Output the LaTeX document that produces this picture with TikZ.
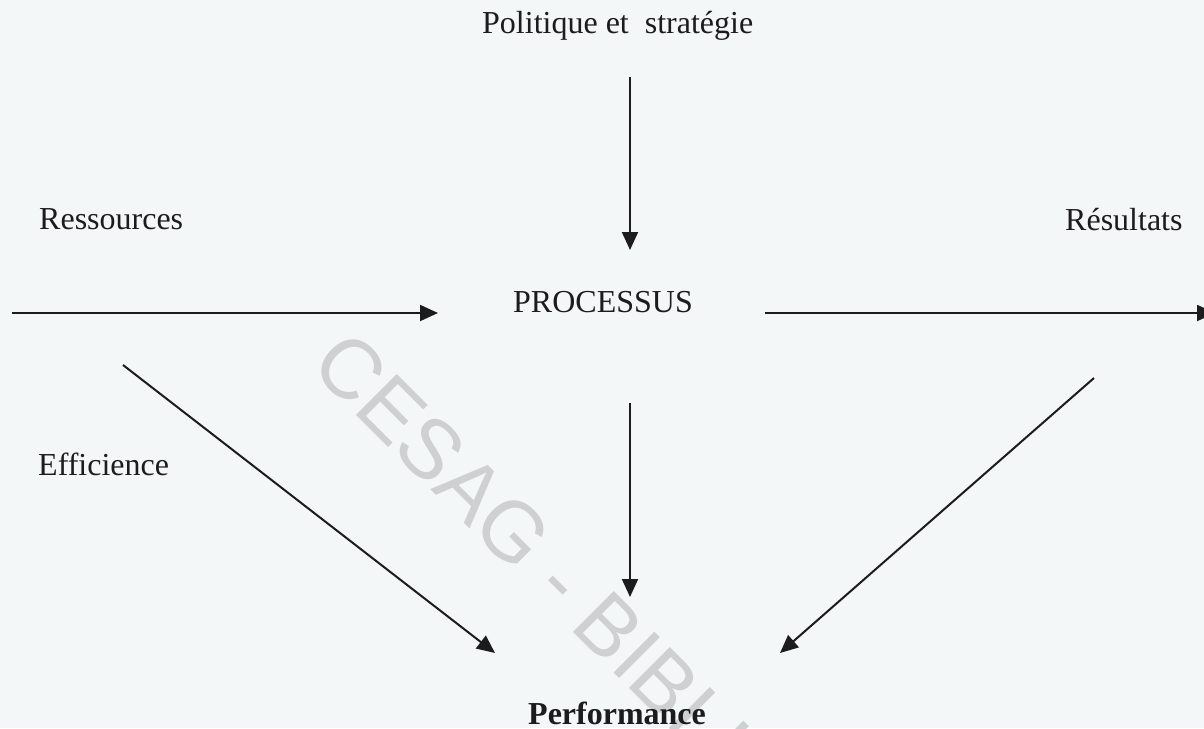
\documentclass[tikz,border=0pt]{standalone}
\usepackage{fontspec}
\setmainfont{Liberation Serif}
\newfontfamily\markfont{Liberation Sans}
\usetikzlibrary{arrows.meta}
\definecolor{paper}{RGB}{244,247,248}
\definecolor{ink}{RGB}{28,28,30}
\definecolor{stamp}{RGB}{206,208,209}
\tikzset{
  label/.style={anchor=base west, inner sep=0pt, text=ink,
                font=\fontsize{32}{38}\selectfont},
  flow/.style={draw=ink, line width=2pt,
               -{Triangle[length=18pt,width=16pt]}},
}
\begin{document}
\begin{tikzpicture}[x=1pt,y=-1pt]
  \useasboundingbox (0,0) rectangle (1204,728);
  \fill[paper] (0,0) rectangle (1204,728);
  \clip (0,0) rectangle (1204,728);

  % library stamp across the page
  \node[anchor=base west, inner sep=0pt, rotate=-45, text=stamp,
        font=\markfont\fontsize{84}{90}\selectfont] (stampmark) at (308,367)
        {CESAG - BIBLIO};

  % labels
  \node[label] (pol)  at (482,33)  {Politique et~ stratégie};
  \node[label] (res)  at (39,229)  {Ressources};
  \node[label] (out)  at (1065,230) {Résultats};
  \node[label] (proc) at (513,312) {PROCESSUS};
  \node[label] (eff)  at (38,475)  {Efficience};
  \node[label, font=\fontsize{32}{38}\selectfont\bfseries] (perf) at (528,724) {Performance};

  % arrow end points
  \coordinate (polA) at (630,77);   \coordinate (polB) at (630,250);
  \coordinate (resA) at (12,313);   \coordinate (resB) at (438,313);
  \coordinate (outA) at (765,313);  \coordinate (outB) at (1215,313);
  \coordinate (procA) at (630,403); \coordinate (procB) at (630,597);
  \coordinate (effA) at (123,365);  \coordinate (effB) at (495,653);
  \coordinate (rgtA) at (1094,378); \coordinate (rgtB) at (780,653);

  % arrows
  \draw[flow] (polA) -- (polB);
  \draw[flow] (resA) -- (resB);
  \draw[flow] (outA) -- (outB);
  \draw[flow] (procA) -- (procB);
  \draw[flow] (effA) -- (effB);
  \draw[flow] (rgtA) -- (rgtB);
\end{tikzpicture}
\end{document}
